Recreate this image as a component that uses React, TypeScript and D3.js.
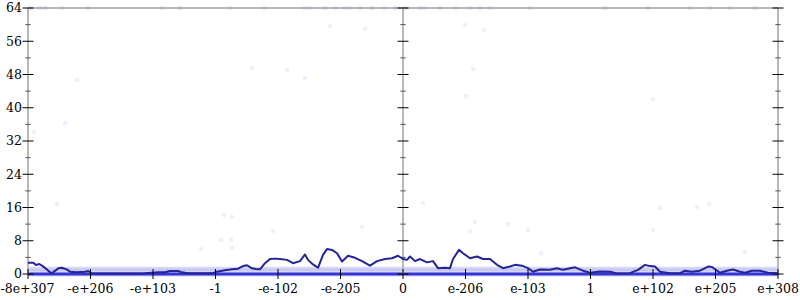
import React from "react";
import * as d3 from "d3";

// x positions are in "exponent-slot" units: tick i sits at position i (-6..6)
const tickPositions = [-6, -5, -4, -3, -2, -1, 0, 1, 2, 3, 4, 5, 6];
const tickLabels = ["-8e+307", "-e+206", "-e+103", "-1", "-e-102", "-e-205", "0", "e-206", "e-103", "1", "e+102", "e+205", "e+308"];
const yMajorTicks = [0, 8, 16, 24, 32, 40, 48, 56, 64];
const yMinorTicks = [4, 12, 20, 28, 36, 44, 52, 60];

const lineX = [-6.0, -5.915, -5.872, -5.819, -5.765, -5.701, -5.659, -5.621, -5.515, -5.461, -5.381, -5.328, -5.221, -5.088, -5.035, -4.981, -4.848, -4.528, -4.208, -4.128, -3.92, -3.808, -3.728, -3.6, -3.536, -3.44, -3.056, -2.976, -2.848, -2.736, -2.64, -2.56, -2.496, -2.416, -2.352, -2.288, -2.208, -2.128, -2.048, -1.968, -1.856, -1.76, -1.648, -1.568, -1.52, -1.44, -1.36, -1.28, -1.216, -1.136, -1.056, -0.976, -0.88, -0.768, -0.656, -0.528, -0.416, -0.288, -0.176, -0.08, 0, 0.064, 0.112, 0.192, 0.272, 0.384, 0.48, 0.56, 0.672, 0.752, 0.8, 0.896, 0.96, 1.072, 1.184, 1.28, 1.392, 1.504, 1.6, 1.712, 1.792, 1.904, 2.0, 2.08, 2.192, 2.352, 2.464, 2.56, 2.752, 2.88, 2.992, 3.152, 3.312, 3.424, 3.632, 3.76, 3.872, 3.952, 4.032, 4.112, 4.272, 4.432, 4.512, 4.624, 4.752, 4.88, 4.944, 5.072, 5.184, 5.28, 5.392, 5.472, 5.584, 5.712, 5.84, 6.0];
const lineY = [2.73, 2.73, 2.17, 2.41, 1.9, 1.12, 0.56, 0.16, 1.36, 1.52, 1.12, 0.56, 0.4, 0.56, 0.72, 0.16, 0.1, 0.1, 0.12, 0.16, 0.4, 0.4, 0.72, 0.72, 0.4, 0.16, 0.16, 0.56, 0.88, 1.12, 1.28, 1.9, 2.1, 1.36, 1.2, 1.12, 2.6, 3.6, 3.7, 3.6, 3.4, 2.6, 3.1, 4.7, 3.4, 2.3, 1.5, 4.6, 6.0, 5.8, 5.0, 3.0, 4.4, 3.9, 3.1, 2.0, 3.1, 3.6, 3.8, 4.4, 3.6, 3.4, 4.2, 3.1, 3.6, 2.8, 3.1, 1.4, 1.5, 1.4, 3.6, 5.8, 5.0, 3.8, 4.2, 3.6, 3.6, 2.2, 1.4, 1.8, 2.2, 2.0, 1.4, 0.55, 1.1, 1.0, 1.4, 1.0, 1.6, 0.8, 0.3, 0.6, 0.55, 0.1, 0.2, 1.0, 2.2, 1.9, 1.8, 0.55, 0.2, 0.2, 0.8, 0.55, 0.8, 1.8, 1.7, 0.3, 0.8, 1.1, 0.55, 0.3, 0.8, 0.8, 0.3, 0.2];

const sparseX = [-5.216, -5.904, -5.408, -5.536, -2.864, -2.736, -2.08, -2.912, -2.752, -2.736, -3.232, -0.656, -1.168, -0.608, -1.568, 0.992, 1.296, 1.12, 1.008, 0.32, 1.152, 1.072, 1.68, 2.0, 2.208, 4.112, 4.704, 4.896, 4.0, 5.472, 4.0, -2.416, -1.856];
const sparseY = [46.7, 34.2, 36.3, 16.8, 14.2, 13.7, 10.3, 8.2, 8.2, 6.3, 6.0, 11.3, 59.7, 59.0, 47.2, 60.0, 58.7, 49.3, 42.8, 17.1, 12.5, 10.3, 12.0, 10.6, 5.0, 15.9, 16.1, 16.8, 10.6, 5.3, 42.1, 49.6, 49.1];

const topRowX = [-5.968, -5.808, -5.728, -5.456, -5.04, -3.856, -3.568, -2.768, -2.208, -1.568, -1.488, -1.248, -1.088, -0.928, -0.848, -0.688, -0.496, -0.288, -0.128, 0.032, 0.272, 0.352, 0.592, 0.832, 1.072, 1.232, 1.392, 2.032, 3.232, 3.92, 4.592, 4.912, 5.232, 5.632];
const topRowValue = 64;

const W = 800;
const H = 300;

export default function App() {
  const x = d3.scaleLinear().domain([-6, 6]).range([28, 778]);
  const y = d3.scaleLinear().domain([0, 64]).range([274, 8]);
  const line = d3
    .line<number>()
    .x((_, i) => x(lineX[i]))
    .y((d) => y(d))
    .curve(d3.curveLinear);
  const font = "'DejaVu Serif', serif";
  const axisGray = "#b8b8b8";
  const vAxes = [-6, 0, 6];

  return (
    <svg width={W} height={H} style={{ position: "absolute", left: 0, top: 0, background: "#fff" }}>
      {/* frame */}
      <line x1={x(-6)} x2={x(6)} y1={y(64)} y2={y(64)} stroke={axisGray} strokeWidth={2} />
      <line x1={x(-6)} x2={x(6)} y1={y(0)} y2={y(0)} stroke={axisGray} strokeWidth={2} />

      {/* sparse scatter */}
      {sparseX.map((sx, i) => (
        <circle key={"s" + i} cx={x(sx)} cy={y(sparseY[i])} r={2.3} fill="#6a6ae8" opacity={0.1} />
      ))}
      {topRowX.map((tx, i) => (
        <circle key={"t" + i} cx={x(tx)} cy={y(topRowValue)} r={2.5} fill="#6a6ae8" opacity={0.12} />
      ))}

      {/* dense bands at values 0 and 1 */}
      <rect x={x(-6)} width={x(6) - x(-6)} y={y(1.75)} height={y(-0.6) - y(1.75)} fill="#5a5ae6" opacity={0.24} />
      <rect x={x(-6)} width={x(6) - x(-6)} y={y(1.3)} height={y(0.7) - y(1.3)} fill="#5a5ae6" opacity={0.12} />
      <line x1={x(-6)} x2={x(6)} y1={y(0)} y2={y(0)} stroke="#3636d4" strokeWidth={3} />

      {/* vertical axes */}
      {vAxes.map((ax) => (
        <g key={"ax" + ax}>
          <line x1={x(ax)} x2={x(ax)} y1={y(64)} y2={y(0)} stroke={axisGray} strokeWidth={2} />
          {yMajorTicks.map((t) => (
            <line key={"M" + t} x1={x(ax) - 5.5} x2={x(ax) + 5.5} y1={y(t)} y2={y(t)} stroke="#000" strokeWidth={1} />
          ))}
          {yMinorTicks.map((t) => (
            <line key={"m" + t} x1={x(ax) - 2.7} x2={x(ax) + 2.7} y1={y(t)} y2={y(t)} stroke="#555" strokeWidth={1} />
          ))}
        </g>
      ))}

      {/* moving average line */}
      <path d={line(lineY) || ""} fill="none" stroke="#24249a" strokeWidth={2} strokeLinejoin="round" />

      {/* x ticks */}
      {tickPositions.map((t, i) => (
        <g key={"xt" + i}>
          <line x1={x(t)} x2={x(t)} y1={y(0) - 5} y2={y(0) + 5} stroke="#000" strokeWidth={1} />
          <text
            x={i === 0 ? 0.5 : x(t)}
            y={293}
            textAnchor={i === 0 ? "start" : "middle"}
            fontFamily={font}
            fontSize={12.5}
            fill="#000"
          >
            {tickLabels[i]}
          </text>
        </g>
      ))}

      {/* y labels */}
      {yMajorTicks.map((t) => (
        <text key={"yl" + t} x={22} y={y(t)} dy="0.35em" textAnchor="end" fontFamily={font} fontSize={12.5} fill="#000">
          {t}
        </text>
      ))}
    </svg>
  );
}
